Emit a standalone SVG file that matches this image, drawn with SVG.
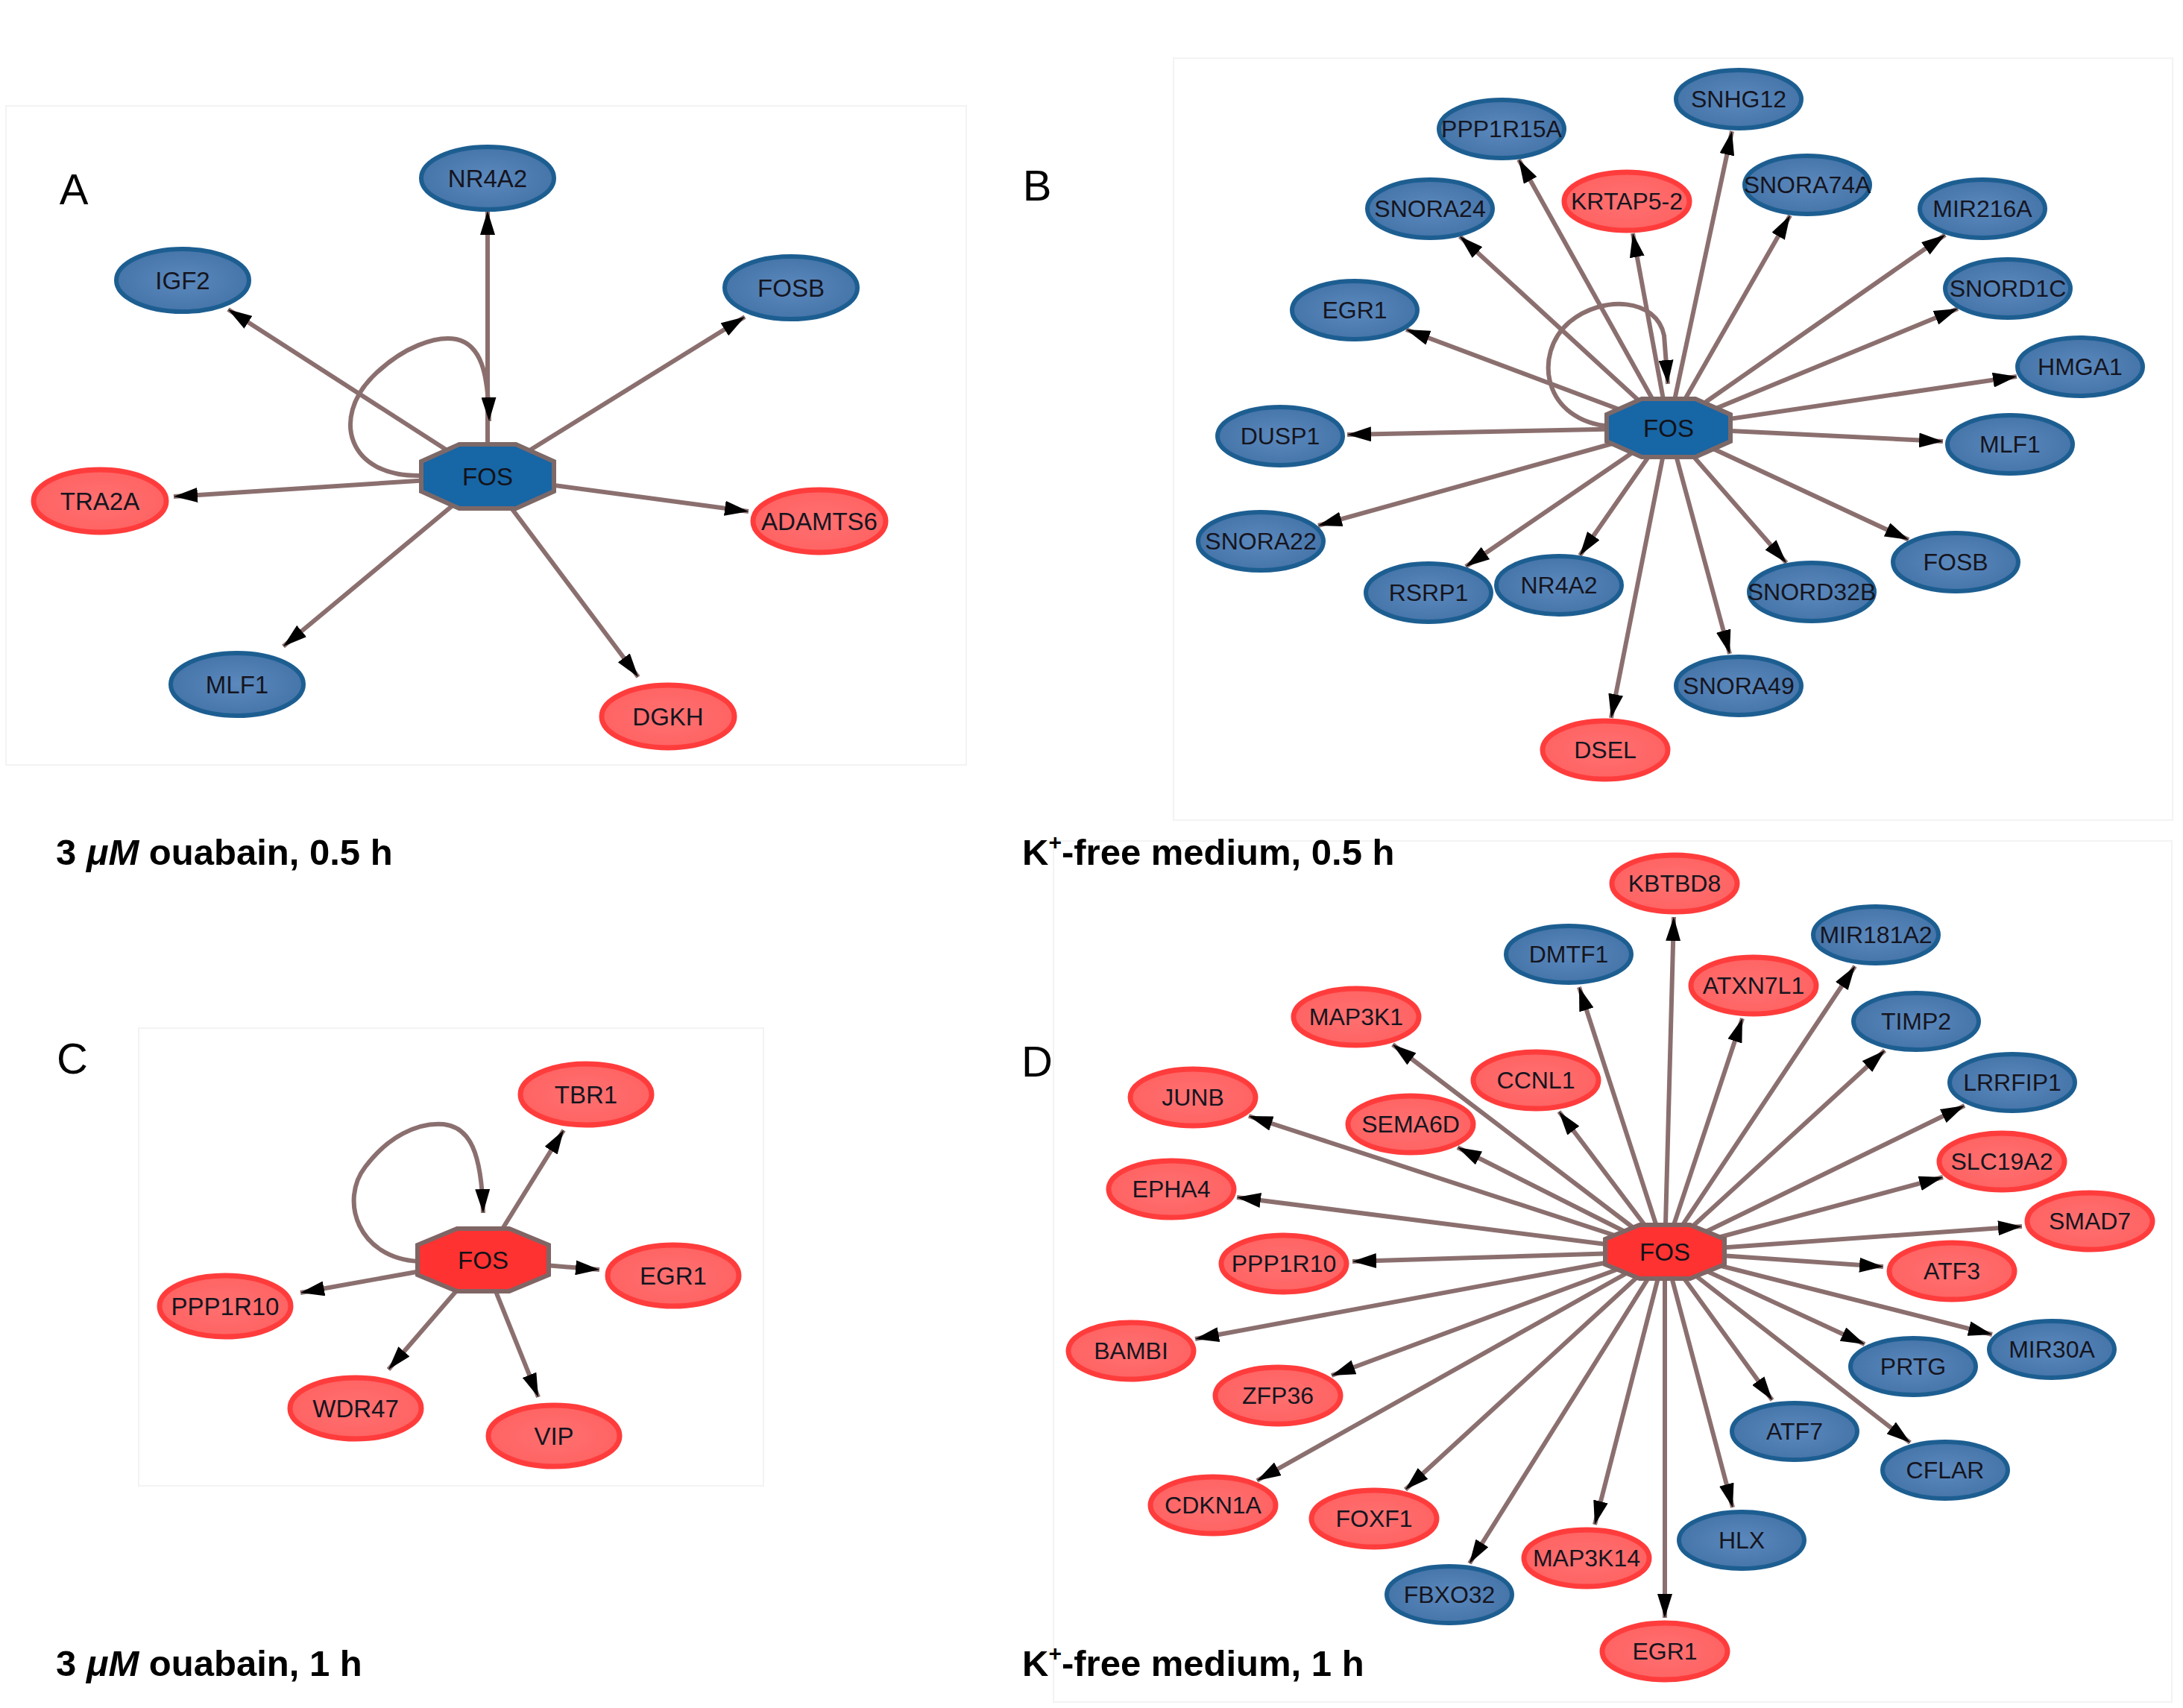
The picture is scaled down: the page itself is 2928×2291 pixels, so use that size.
<svg xmlns="http://www.w3.org/2000/svg" width="2928" height="2291" viewBox="0 0 2928 2291">
<style>
.frame{fill:none;stroke:#f3f3f3;stroke-width:2}
.e{fill:none;stroke:#8b6f6f;stroke-width:6;marker-end:url(#ah)}
.b ellipse{fill:url(#gb);stroke:#1d5e91;stroke-width:6}
.r ellipse{fill:url(#gr);stroke:#ff3c3c;stroke-width:7}
.n{font-family:"Liberation Sans",Arial,sans-serif;font-size:32px;fill:#15151f;text-anchor:middle}
.na{font-size:33px}
.fb polygon{fill:#1766a6;stroke:#7d6868;stroke-width:6}
.fr polygon{fill:#ff3232;stroke:#806565;stroke-width:6}
.fos{font-family:"Liberation Sans",Arial,sans-serif;font-size:33px;fill:#121218;text-anchor:middle}
.lab{font-family:"Liberation Sans",Arial,sans-serif;font-size:58px;fill:#000;text-anchor:middle}
.cap{font-family:"Liberation Sans",Arial,sans-serif;font-size:49px;font-weight:bold;fill:#000}
</style>
<defs>
<radialGradient id="gb" cx="50%" cy="50%" r="55%"><stop offset="0" stop-color="#5b89bd"/><stop offset="1" stop-color="#4473a8"/></radialGradient>
<radialGradient id="gr" cx="50%" cy="50%" r="55%"><stop offset="0" stop-color="#ff7070"/><stop offset="1" stop-color="#ff6262"/></radialGradient>
<marker id="ah" markerUnits="userSpaceOnUse" markerWidth="32" markerHeight="20" refX="32" refY="10" orient="auto" viewBox="0 0 32 20"><path d="M0,0 L32,10 L0,20 z" fill="#000"/></marker>
</defs>
<rect width="2928" height="2291" fill="#fff"/>
<g id="frames">
<rect class="frame" x="8" y="142" width="1288" height="884"/>
<rect class="frame" x="1574" y="78" width="1340" height="1022"/>
<rect class="frame" x="186" y="1379" width="838" height="614"/>
<rect class="frame" x="1413" y="1128" width="1500" height="1155"/>
</g>
<g id="connectors">
<path class="e" d="M654,639 L654,283"/>
<path class="e" d="M654,639 L306,415"/>
<path class="e" d="M654,639 L999,425"/>
<path class="e" d="M654,639 L233,666"/>
<path class="e" d="M654,639 L1004,686"/>
<path class="e" d="M654,639 L380,867"/>
<path class="e" d="M654,639 L856,908"/>
<path class="e" d="M565,638 C465,640 445,560 500,505 C540,465 585,450 612,455 C645,462 655,500 656,565"/>

<path class="e" d="M2238,574 L2037,214"/>
<path class="e" d="M2238,574 L2323,176"/>
<path class="e" d="M2238,574 L1958,317"/>
<path class="e" d="M2238,574 L2190,313"/>
<path class="e" d="M2238,574 L2401,289"/>
<path class="e" d="M2238,574 L2609,315"/>
<path class="e" d="M2238,574 L2626,414"/>
<path class="e" d="M2238,574 L1886,442"/>
<path class="e" d="M2238,574 L2705,505"/>
<path class="e" d="M2238,574 L1807,583"/>
<path class="e" d="M2238,574 L2606,592"/>
<path class="e" d="M2238,574 L1768,705"/>
<path class="e" d="M2238,574 L2560,724"/>
<path class="e" d="M2238,574 L1966,760"/>
<path class="e" d="M2238,574 L2119,745"/>
<path class="e" d="M2238,574 L2396,755"/>
<path class="e" d="M2238,574 L2320,877"/>
<path class="e" d="M2238,574 L2161,963"/>
<path class="e" d="M2160,572 C2070,565 2055,475 2105,432 C2150,395 2222,400 2232,450 L2237,515"/>

<path class="e" d="M648,1690 L756,1516"/>
<path class="e" d="M648,1690 L804,1703"/>
<path class="e" d="M648,1690 L403,1734"/>
<path class="e" d="M648,1690 L521,1837"/>
<path class="e" d="M648,1690 L722,1874"/>
<path class="e" d="M562,1692 C480,1688 455,1610 490,1565 C520,1525 560,1505 595,1508 C630,1512 646,1545 648,1627"/>

<path class="e" d="M2233,1679 L2245,1230"/>
<path class="e" d="M2233,1679 L2118,1324"/>
<path class="e" d="M2233,1679 L2488,1296"/>
<path class="e" d="M2233,1679 L2337,1366"/>
<path class="e" d="M2233,1679 L1868,1401"/>
<path class="e" d="M2233,1679 L2528,1409"/>
<path class="e" d="M2233,1679 L2091,1491"/>
<path class="e" d="M2233,1679 L2635,1483"/>
<path class="e" d="M2233,1679 L1675,1497"/>
<path class="e" d="M2233,1679 L1955,1539"/>
<path class="e" d="M2233,1679 L2606,1579"/>
<path class="e" d="M2233,1679 L1659,1606"/>
<path class="e" d="M2233,1679 L2712,1645"/>
<path class="e" d="M2233,1679 L1814,1692"/>
<path class="e" d="M2233,1679 L2526,1699"/>
<path class="e" d="M2233,1679 L1603,1796"/>
<path class="e" d="M2233,1679 L2672,1790"/>
<path class="e" d="M2233,1679 L2501,1803"/>
<path class="e" d="M2233,1679 L1786,1845"/>
<path class="e" d="M2233,1679 L2377,1878"/>
<path class="e" d="M2233,1679 L2562,1935"/>
<path class="e" d="M2233,1679 L1686,1986"/>
<path class="e" d="M2233,1679 L1885,1998"/>
<path class="e" d="M2233,1679 L2324,2022"/>
<path class="e" d="M2233,1679 L2139,2045"/>
<path class="e" d="M2233,1679 L1971,2097"/>
<path class="e" d="M2233,1679 L2233,2170"/>
</g>

<!-- Panel A -->
<g id="a-fos" class="fb"><polygon points="616,596 692,596 743,619 743,659 692,682 616,682 565,659 565,619"/><text class="fos" x="654" y="651">FOS</text></g>
<g id="a-nr4a2" class="b"><ellipse cx="654" cy="239" rx="89" ry="42"/><text class="n na" x="654" y="251">NR4A2</text></g>
<g id="a-igf2" class="b"><ellipse cx="245" cy="376" rx="89" ry="42"/><text class="n na" x="245" y="388">IGF2</text></g>
<g id="a-fosb" class="b"><ellipse cx="1061" cy="386" rx="89" ry="42"/><text class="n na" x="1061" y="398">FOSB</text></g>
<g id="a-tra2a" class="r"><ellipse cx="134" cy="672" rx="89" ry="42"/><text class="n na" x="134" y="684">TRA2A</text></g>
<g id="a-adamts6" class="r"><ellipse cx="1099" cy="699" rx="89" ry="42"/><text class="n na" x="1099" y="711">ADAMTS6</text></g>
<g id="a-mlf1" class="b"><ellipse cx="318" cy="918" rx="89" ry="42"/><text class="n na" x="318" y="930">MLF1</text></g>
<g id="a-dgkh" class="r"><ellipse cx="896" cy="961" rx="89" ry="42"/><text class="n na" x="896" y="973">DGKH</text></g>

<!-- Panel B -->
<g id="b-fos" class="fb"><polygon points="2202,535 2274,535 2321,556 2321,592 2274,613 2202,613 2155,592 2155,556"/><text class="fos" x="2238" y="586">FOS</text></g>
<g id="b-ppp1r15a" class="b"><ellipse cx="2014" cy="173" rx="84" ry="39"/><text class="n" x="2014" y="184">PPP1R15A</text></g>
<g id="b-snhg12" class="b"><ellipse cx="2332" cy="133" rx="84" ry="39"/><text class="n" x="2332" y="144">SNHG12</text></g>
<g id="b-snora24" class="b"><ellipse cx="1918" cy="280" rx="84" ry="39"/><text class="n" x="1918" y="291">SNORA24</text></g>
<g id="b-krtap5-2" class="r"><ellipse cx="2182" cy="270" rx="84" ry="39"/><text class="n" x="2182" y="281">KRTAP5-2</text></g>
<g id="b-snora74a" class="b"><ellipse cx="2424" cy="248" rx="84" ry="39"/><text class="n" x="2424" y="259">SNORA74A</text></g>
<g id="b-mir216a" class="b"><ellipse cx="2659" cy="280" rx="84" ry="39"/><text class="n" x="2659" y="291">MIR216A</text></g>
<g id="b-snord1c" class="b"><ellipse cx="2693" cy="387" rx="84" ry="39"/><text class="n" x="2693" y="398">SNORD1C</text></g>
<g id="b-egr1" class="b"><ellipse cx="1817" cy="416" rx="84" ry="39"/><text class="n" x="1817" y="427">EGR1</text></g>
<g id="b-hmga1" class="b"><ellipse cx="2790" cy="492" rx="84" ry="39"/><text class="n" x="2790" y="503">HMGA1</text></g>
<g id="b-dusp1" class="b"><ellipse cx="1717" cy="585" rx="84" ry="39"/><text class="n" x="1717" y="596">DUSP1</text></g>
<g id="b-mlf1" class="b"><ellipse cx="2696" cy="596" rx="84" ry="39"/><text class="n" x="2696" y="607">MLF1</text></g>
<g id="b-snora22" class="b"><ellipse cx="1691" cy="726" rx="84" ry="39"/><text class="n" x="1691" y="737">SNORA22</text></g>
<g id="b-fosb" class="b"><ellipse cx="2623" cy="754" rx="84" ry="39"/><text class="n" x="2623" y="765">FOSB</text></g>
<g id="b-rsrp1" class="b"><ellipse cx="1916" cy="795" rx="84" ry="39"/><text class="n" x="1916" y="806">RSRP1</text></g>
<g id="b-nr4a2" class="b"><ellipse cx="2091" cy="785" rx="84" ry="39"/><text class="n" x="2091" y="796">NR4A2</text></g>
<g id="b-snord32b" class="b"><ellipse cx="2430" cy="794" rx="84" ry="39"/><text class="n" x="2430" y="805">SNORD32B</text></g>
<g id="b-snora49" class="b"><ellipse cx="2332" cy="920" rx="84" ry="39"/><text class="n" x="2332" y="931">SNORA49</text></g>
<g id="b-dsel" class="r"><ellipse cx="2153" cy="1006" rx="84" ry="39"/><text class="n" x="2153" y="1017">DSEL</text></g>

<!-- Panel C -->
<g id="c-fos" class="fr"><polygon points="613,1648 683,1648 736,1670 736,1710 683,1732 613,1732 560,1710 560,1670"/><text class="fos" x="648" y="1702">FOS</text></g>
<g id="c-tbr1" class="r"><ellipse cx="786" cy="1468" rx="88" ry="41"/><text class="n na" x="786" y="1480">TBR1</text></g>
<g id="c-egr1" class="r"><ellipse cx="903" cy="1711" rx="88" ry="41"/><text class="n na" x="903" y="1723">EGR1</text></g>
<g id="c-ppp1r10" class="r"><ellipse cx="302" cy="1752" rx="88" ry="41"/><text class="n na" x="302" y="1764">PPP1R10</text></g>
<g id="c-wdr47" class="r"><ellipse cx="477" cy="1889" rx="88" ry="41"/><text class="n na" x="477" y="1901">WDR47</text></g>
<g id="c-vip" class="r"><ellipse cx="743" cy="1926" rx="88" ry="41"/><text class="n na" x="743" y="1938">VIP</text></g>

<!-- Panel D -->
<g id="d-fos" class="fr"><polygon points="2199,1643 2267,1643 2313,1662 2313,1696 2267,1715 2199,1715 2153,1696 2153,1662"/><text class="fos" x="2233" y="1691">FOS</text></g>
<g id="d-kbtbd8" class="r"><ellipse cx="2246" cy="1185" rx="84" ry="38"/><text class="n" x="2246" y="1196">KBTBD8</text></g>
<g id="d-dmtf1" class="b"><ellipse cx="2104" cy="1280" rx="84" ry="38"/><text class="n" x="2104" y="1291">DMTF1</text></g>
<g id="d-mir181a2" class="b"><ellipse cx="2516" cy="1254" rx="84" ry="38"/><text class="n" x="2516" y="1265">MIR181A2</text></g>
<g id="d-atxn7l1" class="r"><ellipse cx="2352" cy="1322" rx="84" ry="38"/><text class="n" x="2352" y="1333">ATXN7L1</text></g>
<g id="d-map3k1" class="r"><ellipse cx="1819" cy="1364" rx="84" ry="38"/><text class="n" x="1819" y="1375">MAP3K1</text></g>
<g id="d-timp2" class="b"><ellipse cx="2570" cy="1370" rx="84" ry="38"/><text class="n" x="2570" y="1381">TIMP2</text></g>
<g id="d-ccnl1" class="r"><ellipse cx="2060" cy="1449" rx="84" ry="38"/><text class="n" x="2060" y="1460">CCNL1</text></g>
<g id="d-lrrfip1" class="b"><ellipse cx="2699" cy="1452" rx="84" ry="38"/><text class="n" x="2699" y="1463">LRRFIP1</text></g>
<g id="d-junb" class="r"><ellipse cx="1600" cy="1472" rx="84" ry="38"/><text class="n" x="1600" y="1483">JUNB</text></g>
<g id="d-sema6d" class="r"><ellipse cx="1892" cy="1508" rx="84" ry="38"/><text class="n" x="1892" y="1519">SEMA6D</text></g>
<g id="d-slc19a2" class="r"><ellipse cx="2685" cy="1558" rx="84" ry="38"/><text class="n" x="2685" y="1569">SLC19A2</text></g>
<g id="d-epha4" class="r"><ellipse cx="1571" cy="1595" rx="84" ry="38"/><text class="n" x="1571" y="1606">EPHA4</text></g>
<g id="d-smad7" class="r"><ellipse cx="2803" cy="1638" rx="84" ry="38"/><text class="n" x="2803" y="1649">SMAD7</text></g>
<g id="d-ppp1r10" class="r"><ellipse cx="1722" cy="1695" rx="84" ry="38"/><text class="n" x="1722" y="1706">PPP1R10</text></g>
<g id="d-atf3" class="r"><ellipse cx="2618" cy="1705" rx="84" ry="38"/><text class="n" x="2618" y="1716">ATF3</text></g>
<g id="d-bambi" class="r"><ellipse cx="1517" cy="1812" rx="84" ry="38"/><text class="n" x="1517" y="1823">BAMBI</text></g>
<g id="d-mir30a" class="b"><ellipse cx="2752" cy="1810" rx="84" ry="38"/><text class="n" x="2752" y="1821">MIR30A</text></g>
<g id="d-prtg" class="b"><ellipse cx="2566" cy="1833" rx="84" ry="38"/><text class="n" x="2566" y="1844">PRTG</text></g>
<g id="d-zfp36" class="r"><ellipse cx="1714" cy="1872" rx="84" ry="38"/><text class="n" x="1714" y="1883">ZFP36</text></g>
<g id="d-atf7" class="b"><ellipse cx="2407" cy="1920" rx="84" ry="38"/><text class="n" x="2407" y="1931">ATF7</text></g>
<g id="d-cflar" class="b"><ellipse cx="2609" cy="1972" rx="84" ry="38"/><text class="n" x="2609" y="1983">CFLAR</text></g>
<g id="d-cdkn1a" class="r"><ellipse cx="1627" cy="2019" rx="84" ry="38"/><text class="n" x="1627" y="2030">CDKN1A</text></g>
<g id="d-foxf1" class="r"><ellipse cx="1843" cy="2037" rx="84" ry="38"/><text class="n" x="1843" y="2048">FOXF1</text></g>
<g id="d-hlx" class="b"><ellipse cx="2336" cy="2066" rx="84" ry="38"/><text class="n" x="2336" y="2077">HLX</text></g>
<g id="d-map3k14" class="r"><ellipse cx="2128" cy="2090" rx="84" ry="38"/><text class="n" x="2128" y="2101">MAP3K14</text></g>
<g id="d-fbxo32" class="b"><ellipse cx="1944" cy="2139" rx="84" ry="38"/><text class="n" x="1944" y="2150">FBXO32</text></g>
<g id="d-egr1" class="r"><ellipse cx="2233" cy="2215" rx="84" ry="38"/><text class="n" x="2233" y="2226">EGR1</text></g>

<g id="labels">
<text class="lab" x="99" y="274">A</text>
<text class="lab" x="1391" y="269">B</text>
<text class="lab" x="97" y="1440">C</text>
<text class="lab" x="1391" y="1444">D</text>
<text class="cap" x="75" y="1160">3 <tspan font-style="italic">μM</tspan> ouabain, 0.5 h</text>
<text class="cap" x="1371" y="1160">K<tspan font-size="30" dy="-20">+</tspan><tspan dy="20">-free medium, 0.5 h</tspan></text>
<text class="cap" x="75" y="2248">3 <tspan font-style="italic">μM</tspan> ouabain, 1 h</text>
<text class="cap" x="1371" y="2248">K<tspan font-size="30" dy="-20">+</tspan><tspan dy="20">-free medium, 1 h</tspan></text>
</g>
</svg>
